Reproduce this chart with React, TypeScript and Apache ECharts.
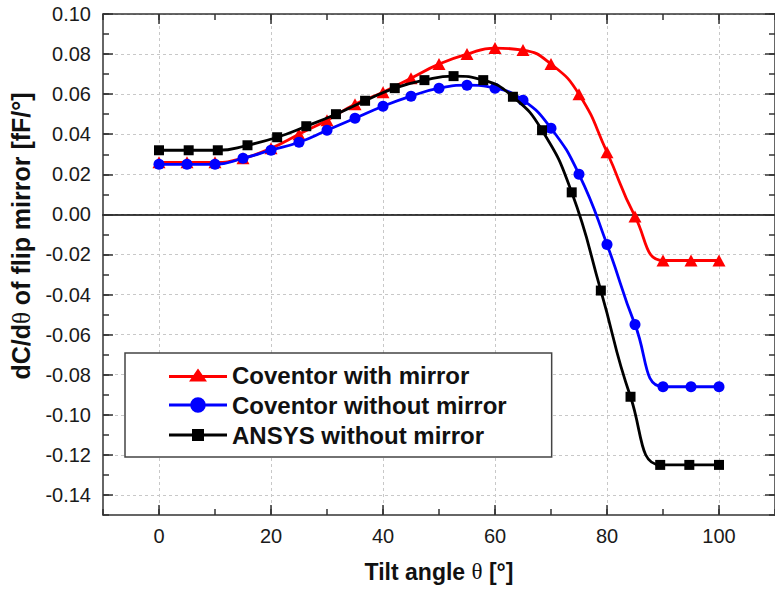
import React, { useEffect, useRef } from "react";
import * as echarts from "echarts";

const seriesNames = ["Coventor with mirror", "Coventor without mirror", "ANSYS without mirror"];
const seriesColors = ["#ff0000", "#0000ff", "#000000"];

const coventorAngles = [0, 5, 10, 15, 20, 25, 30, 35, 40, 45, 50, 55, 60, 65, 70, 75, 80, 85, 90, 95, 100];
const coventorWithMirror = [0.026, 0.026, 0.026, 0.028, 0.033, 0.040, 0.047, 0.055, 0.061, 0.068, 0.075, 0.080, 0.083, 0.082, 0.075, 0.060, 0.031, -0.001, -0.023, -0.023, -0.023];
const coventorWithoutMirror = [0.025, 0.025, 0.025, 0.028, 0.032, 0.036, 0.042, 0.048, 0.054, 0.059, 0.063, 0.0645, 0.063, 0.057, 0.043, 0.020, -0.015, -0.055, -0.086, -0.086, -0.086];

const ansysAngles = [0, 5.3, 10.5, 15.8, 21.1, 26.3, 31.6, 36.8, 42.1, 47.4, 52.6, 57.9, 63.2, 68.4, 73.7, 78.9, 84.2, 89.5, 94.7, 100];
const ansysWithoutMirror = [0.032, 0.032, 0.032, 0.0345, 0.0385, 0.044, 0.050, 0.0567, 0.063, 0.067, 0.069, 0.067, 0.0587, 0.042, 0.011, -0.038, -0.091, -0.125, -0.125, -0.125];

const xTickValues = [0, 20, 40, 60, 80, 100];
const yTickValues = [-0.14, -0.12, -0.1, -0.08, -0.06, -0.04, -0.02, 0, 0.02, 0.04, 0.06, 0.08, 0.1];

const xTitle = "Tilt angle {t|θ} [°]";
const yTitle = "dC/d{t|θ} of flip mirror [fF/°]";

const FONT = "'Liberation Sans', Arial, Helvetica, sans-serif";
const SERIF = "'Liberation Serif', 'DejaVu Serif', serif";
const AXIS_COLOR = "#333";

const legendIcons = [
  "path://M0 6.5H58V9.5H0Z M20 13L29 0L38 13Z",
  "path://M0 6.5H58V9.5H0Z M21.2 8A7.8 7.8 0 1 1 36.8 8A7.8 7.8 0 1 1 21.2 8Z",
  "path://M0 6H58V9H0Z M23 1.5H35V13.5H23Z",
];

export default function App() {
  const ref = useRef<HTMLDivElement>(null);

  useEffect(() => {
    if (!ref.current) return;
    const chart = echarts.init(ref.current, null, { renderer: "svg" });

    const X_MIN = -10;
    const X_MAX = 110;
    const Y_MIN = -0.15;
    const Y_MAX = 0.1;

    const hidden = { show: false };
    const frameLine = { show: true, onZero: false, lineStyle: { color: AXIS_COLOR, width: 1.5 } };

    const xMajor = (position: "bottom" | "top", withLabels: boolean) => ({
      type: "value",
      min: X_MIN,
      max: X_MAX,
      position,
      axisLine: frameLine,
      axisTick: { show: true, inside: true, length: 10, customValues: xTickValues, lineStyle: { color: AXIS_COLOR, width: 1.5 } },
      axisLabel: withLabels
        ? { show: true, customValues: xTickValues, fontSize: 20, color: "#1a1a1a", fontFamily: FONT, margin: 11 }
        : hidden,
      splitLine: withLabels
        ? { show: true, lineStyle: { color: "#c8c8c8", width: 1, type: [3, 3] } }
        : hidden,
    });
    const xMinor = (position: "bottom" | "top") => ({
      type: "value",
      min: X_MIN,
      max: X_MAX,
      interval: 10,
      position,
      axisLine: { show: false, onZero: false },
      axisTick: { show: true, inside: true, length: 6, lineStyle: { color: AXIS_COLOR, width: 1.5 } },
      axisLabel: hidden,
      splitLine: hidden,
    });
    const yMajor = (position: "left" | "right", withLabels: boolean) => ({
      type: "value",
      min: Y_MIN,
      max: Y_MAX,
      position,
      axisLine: frameLine,
      axisTick: { show: true, inside: true, length: 10, customValues: yTickValues, lineStyle: { color: AXIS_COLOR, width: 1.5 } },
      axisLabel: withLabels
        ? {
            show: true,
            customValues: yTickValues,
            fontSize: 20,
            color: "#1a1a1a",
            fontFamily: FONT,
            margin: 12,
            formatter: (v: number) => v.toFixed(2),
          }
        : hidden,
      splitLine: withLabels
        ? { show: true, lineStyle: { color: "#c8c8c8", width: 1, type: [3, 3] } }
        : hidden,
    });
    const yMinor = (position: "left" | "right") => ({
      type: "value",
      min: Y_MIN,
      max: Y_MAX,
      interval: 0.01,
      position,
      axisLine: { show: false, onZero: false },
      axisTick: { show: true, inside: true, length: 6, lineStyle: { color: AXIS_COLOR, width: 1.5 } },
      axisLabel: hidden,
      splitLine: hidden,
    });

    const xAxes: any[] = [
      {
        ...xMajor("bottom", true),
        name: xTitle,
        nameLocation: "middle",
        nameGap: 45,
        nameTextStyle: {
          fontSize: 23,
          fontWeight: "bold",
          color: "#111",
          fontFamily: FONT,
          rich: { t: { fontSize: 23, fontWeight: "normal", fontFamily: SERIF, color: "#111" } },
        },
      },
      xMajor("top", false),
      xMinor("bottom"),
      xMinor("top"),
      {
        // zero line
        type: "value",
        min: X_MIN,
        max: X_MAX,
        position: "bottom",
        axisLine: { show: true, onZero: true, onZeroAxisIndex: 0, lineStyle: { color: "#000", width: 1.5 } },
        axisTick: hidden,
        axisLabel: hidden,
        splitLine: hidden,
      },
    ];
    const yAxes: any[] = [yMajor("left", true), yMajor("right", false), yMinor("left"), yMinor("right")];

    const symbols = ["triangle", "circle", "rect"];
    const symbolSizes: any[] = [[13, 12], 11, 10];
    const xs = [coventorAngles, coventorAngles, ansysAngles];
    const ys = [coventorWithMirror, coventorWithoutMirror, ansysWithoutMirror];

    const series = seriesNames.map((name, i) => ({
      name,
      type: "line",
      xAxisIndex: 0,
      yAxisIndex: 0,
      data: xs[i].map((x, j) => [x, ys[i][j]]),
      smooth: 0.5,
      symbol: symbols[i],
      symbolSize: symbolSizes[i],
      showSymbol: true,
      color: seriesColors[i],
      lineStyle: { color: seriesColors[i], width: 2.8 },
      itemStyle: { color: seriesColors[i], borderWidth: 0 },
      z: 3 + i,
    }));

    chart.setOption({
      animation: false,
      backgroundColor: "#fff",
      grid: { left: 103, top: 14, width: 677, height: 501, containLabel: false },
      xAxis: xAxes,
      yAxis: yAxes,
      legend: {
        orient: "vertical",
        left: 125,
        top: 353,
        padding: [10, 45, 10, 44],
        itemGap: 6,
        itemWidth: 58,
        itemHeight: 18,
        borderColor: "#444",
        borderWidth: 1.5,
        backgroundColor: "#fff",
        textStyle: { fontSize: 24, fontWeight: "bold", color: "#111", fontFamily: FONT },
        data: seriesNames.map((name, i) => ({ name, icon: legendIcons[i] })),
        selectedMode: false,
      },
      graphic: [
        {
          type: "text",
          x: 21,
          y: 236,
          rotation: Math.PI / 2,
          style: {
            text: yTitle,
            fontSize: 25,
            fontWeight: "bold",
            fill: "#111",
            fontFamily: FONT,
            align: "center",
            verticalAlign: "middle",
            rich: { t: { fontSize: 25, fontWeight: "normal", fontFamily: SERIF, fill: "#111" } },
          },
        },
      ],
      series,
    });

    return () => chart.dispose();
  }, []);

  return (
    <div
      ref={ref}
      style={{ position: "absolute", left: 0, top: 0, width: 775, height: 589, background: "#fff" }}
    />
  );
}
